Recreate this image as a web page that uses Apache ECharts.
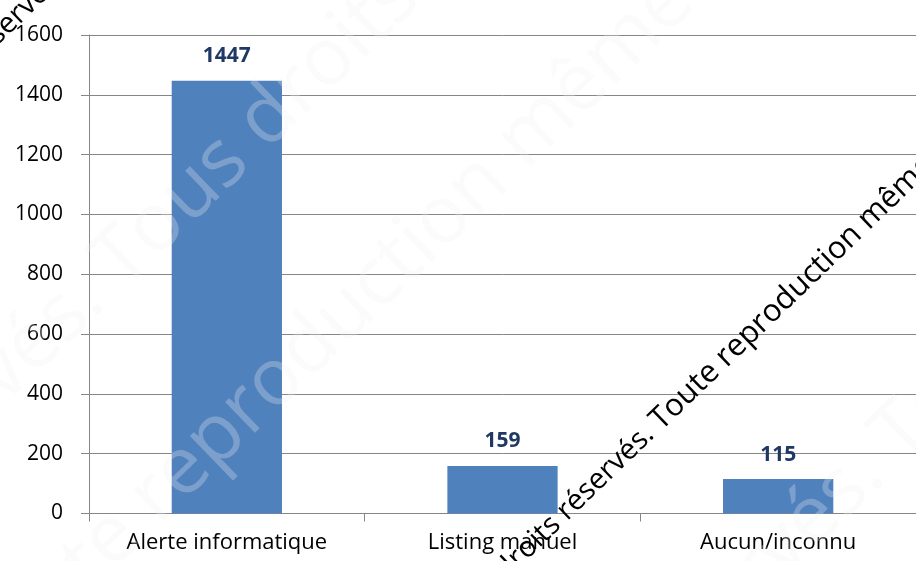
<!DOCTYPE html>
<html>
<head>
<meta charset="utf-8">
<script src="https://cdn.jsdelivr.net/npm/echarts@6/dist/echarts.min.js"></script>
<style>html,body{margin:0;padding:0;background:#fff;}#c{width:916px;height:561px;}</style>
</head>
<body>
<div id="c"></div>
<script>
const categories = ['Alerte informatique', 'Listing manuel', 'Aucun/inconnu'];
const values = [1447, 159, 115];
const yTicks = [0, 200, 400, 600, 800, 1000, 1200, 1400, 1600];
const watermarkBefore = 'Tous droits réservés. Tous droits réservés. ';
const watermarkAfter = 'Toute reproduction même partielle interdite. Tous droits réservés.';
const faintBeforeA = 'Tous droits réservés. ';
const faintAfterA = 'Tous droits réservés. Toute reproduction même partielle interdite.';
const faintBeforeB = 'Tous droits réservés. Toute ';
const faintAfterB = 'reproduction même partielle interdite. Tous droits réservés.';
const faintC = 'Tous droits réservés. Toute reproduction même partielle interdite.';

const ang = 44 * Math.PI / 180;
function wm(x, y, before, after, size, fill, beforeSize) {
  const font = { fontFamily: 'Open Sans', fill: fill, verticalAlign: 'middle' };
  const els = [];
  if (before) els.push({ type: 'text', x: x, y: y, rotation: ang, silent: true, z: 100,
    style: Object.assign({ text: before, x: 0, y: 0, align: 'right', fontSize: beforeSize || size }, font) });
  if (after) els.push({ type: 'text', x: x, y: y, rotation: ang, silent: true, z: 100,
    style: Object.assign({ text: after, x: 0, y: 0, align: 'left', fontSize: size }, font) });
  return els;
}
const faintFill = 'rgba(240,240,240,0.28)';
const darkFill = '#000000';
const graphics = [].concat(
  wm(107, 274, faintBeforeA, faintAfterA, 80, faintFill),
  wm(143, 509, faintBeforeB, faintAfterB, 80, faintFill),
  wm(314, 1001, null, faintC, 80, faintFill),
  wm(655, 425, watermarkBefore, watermarkAfter, 31, darkFill, 29),
  wm(65, -31, watermarkBefore, watermarkAfter, 31, darkFill, 29)
);

const chart = echarts.init(document.getElementById('c'), null, { renderer: 'canvas' });
const axisColor = '#868686';
chart.setOption({
  animation: false,
  backgroundColor: '#ffffff',
  grid: { left: 89, top: 35, width: 837, height: 478.5, containLabel: false },
  xAxis: {
    type: 'category',
    data: categories,
    axisLine: { lineStyle: { color: axisColor, width: 1 } },
    axisTick: { show: true, length: 8, lineStyle: { color: axisColor } },
    axisLabel: { fontSize: 22, fontFamily: 'Open Sans', color: '#000', margin: 18 }
  },
  yAxis: {
    type: 'value',
    min: yTicks[0],
    max: yTicks[yTicks.length - 1],
    interval: yTicks[1] - yTicks[0],
    axisLine: { show: true, lineStyle: { color: axisColor, width: 1 } },
    axisTick: { show: true, length: 8, lineStyle: { color: axisColor } },
    splitLine: { show: true, lineStyle: { color: axisColor, width: 1 } },
    axisLabel: { fontSize: 21, fontFamily: 'Open Sans', color: '#000', margin: 26, formatter: function (v) { return String(v); } }
  },
  series: [{
    type: 'bar',
    data: values,
    barWidth: '40%',
    itemStyle: { color: '#4F81BD' },
    label: { show: true, position: 'top', distance: 14, fontSize: 21, fontWeight: 'bold', fontFamily: 'Open Sans', color: '#1F3864' }
  }],
  graphic: graphics
});
</script>
</body>
</html>
